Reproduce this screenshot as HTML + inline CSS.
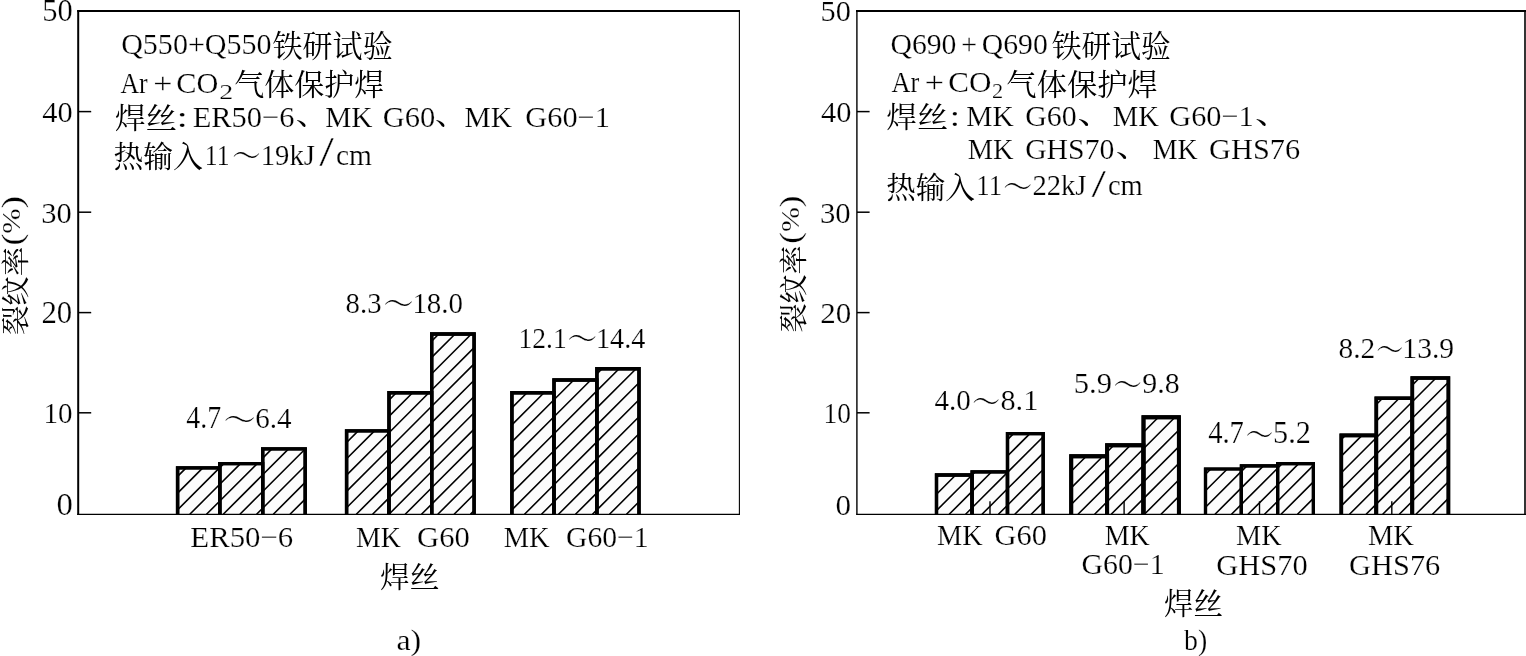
<!DOCTYPE html>
<html lang="zh"><head><meta charset="utf-8"><title>裂纹率</title>
<style>html,body{margin:0;padding:0;background:#fff}svg{display:block}text{font-family:"Liberation Serif","Noto Serif CJK SC",serif;white-space:pre}</style>
</head><body>
<svg width="1526" height="656" viewBox="0 0 1526 656">
<g fill="#fcfcfc" stroke="#000" stroke-width="3.4"><path d="M177.6 514.3V467.9H219.8V514.3"/><path d="M219.8 514.3V463.6H262.7V514.3"/><path d="M262.7 514.3V448.9H305.2V514.3"/></g>
<g fill="#fcfcfc" stroke="#000" stroke-width="3.4"><path d="M346.6 514.3V430.9H389.0V514.3"/><path d="M389.0 514.3V392.8H431.7V514.3"/><path d="M431.7 514.3V334.0H474.1V514.3"/></g>
<g fill="#fcfcfc" stroke="#000" stroke-width="3.4"><path d="M511.9 514.3V392.8H554.0V514.3"/><path d="M554.0 514.3V380.0H596.9V514.3"/><path d="M596.9 514.3V368.7H639.0V514.3"/></g>
<g fill="#fcfcfc" stroke="#000" stroke-width="3.3"><path d="M936.5 514.3V475.0H972.1V514.3"/><path d="M972.1 514.3V471.8H1007.5V514.3"/><path d="M1007.5 514.3V433.6H1043.2V514.3"/></g>
<g fill="#fcfcfc" stroke="#000" stroke-width="3.9"><path d="M1071.2 514.3V456.2H1107.1V514.3"/><path d="M1107.1 514.3V445.3H1143.5V514.3"/><path d="M1143.5 514.3V417.3H1178.9V514.3"/></g>
<g fill="#fcfcfc" stroke="#000" stroke-width="3.2"><path d="M1205.5 514.3V469.0H1241.4V514.3"/><path d="M1241.4 514.3V465.9H1277.6V514.3"/><path d="M1277.6 514.3V463.6H1313.4V514.3"/></g>
<g fill="#fcfcfc" stroke="#000" stroke-width="3.6"><path d="M1341.3 514.3V435.4H1376.3V514.3"/><path d="M1376.3 514.3V398.2H1412.3V514.3"/><path d="M1412.3 514.3V378.0H1448.4V514.3"/></g>
<path d="M177.6 476.4L186.1 467.9M177.6 493.1L202.8 467.9M177.6 509.8L219.5 467.9M189.8 514.3L219.8 484.3M206.5 514.3L219.8 501.0M219.8 467.6L223.8 463.6M219.8 484.3L240.5 463.6M219.8 501.0L257.2 463.6M223.2 514.3L262.7 474.8M239.9 514.3L262.7 491.5M256.6 514.3L262.7 508.2M262.7 458.1L271.9 448.9M262.7 474.8L288.6 448.9M262.7 491.5L305.2 449.0M262.7 508.2L305.2 465.7M273.3 514.3L305.2 482.4M290.0 514.3L305.2 499.1" stroke="#000" stroke-width="1.6" fill="none"/>
<path d="M346.6 442.5L358.2 430.9M346.6 458.8L374.5 430.9M346.6 475.1L389.0 432.7M346.6 491.4L389.0 449.0M346.6 507.7L389.0 465.3M356.3 514.3L389.0 481.6M372.6 514.3L389.0 497.9M388.9 514.3L389.0 514.2M389.0 400.1L396.3 392.8M389.0 416.4L412.6 392.8M389.0 432.7L428.9 392.8M389.0 449.0L431.7 406.3M389.0 465.3L431.7 422.6M389.0 481.6L431.7 438.9M389.0 497.9L431.7 455.2M389.0 514.2L431.7 471.5M405.2 514.3L431.7 487.8M421.5 514.3L431.7 504.1M431.7 341.1L438.8 334.0M431.7 357.4L455.1 334.0M431.7 373.7L471.4 334.0M431.7 390.0L474.1 347.6M431.7 406.3L474.1 363.9M431.7 422.6L474.1 380.2M431.7 438.9L474.1 396.5M431.7 455.2L474.1 412.8M431.7 471.5L474.1 429.1M431.7 487.8L474.1 445.4M431.7 504.1L474.1 461.7M437.8 514.3L474.1 478.0M454.1 514.3L474.1 494.3M470.4 514.3L474.1 510.6" stroke="#000" stroke-width="1.6" fill="none"/>
<path d="M511.9 407.9L527.0 392.8M511.9 424.9L544.0 392.8M511.9 441.9L554.0 399.8M511.9 458.9L554.0 416.8M511.9 475.9L554.0 433.8M511.9 492.9L554.0 450.8M511.9 509.9L554.0 467.8M524.5 514.3L554.0 484.8M541.5 514.3L554.0 501.8M554.0 382.8L556.8 380.0M554.0 399.8L573.8 380.0M554.0 416.8L590.8 380.0M554.0 433.8L596.9 390.9M554.0 450.8L596.9 407.9M554.0 467.8L596.9 424.9M554.0 484.8L596.9 441.9M554.0 501.8L596.9 458.9M558.5 514.3L596.9 475.9M575.5 514.3L596.9 492.9M592.5 514.3L596.9 509.9M596.9 373.9L602.1 368.7M596.9 390.9L619.1 368.7M596.9 407.9L636.1 368.7M596.9 424.9L639.0 382.8M596.9 441.9L639.0 399.8M596.9 458.9L639.0 416.8M596.9 475.9L639.0 433.8M596.9 492.9L639.0 450.8M596.9 509.9L639.0 467.8M609.5 514.3L639.0 484.8M626.5 514.3L639.0 501.8" stroke="#000" stroke-width="1.6" fill="none"/>
<path d="M936.5 477.8L939.3 475.0M936.5 494.2L955.7 475.0M936.5 510.6L972.1 475.0M949.2 514.3L972.1 491.4M965.6 514.3L972.1 507.8M972.1 475.0L975.3 471.8M972.1 491.4L991.7 471.8M972.1 507.8L1007.5 472.4M982.0 514.3L1007.5 488.8M998.4 514.3L1007.5 505.2M1007.5 439.6L1013.5 433.6M1007.5 456.0L1029.9 433.6M1007.5 472.4L1043.2 436.7M1007.5 488.8L1043.2 453.1M1007.5 505.2L1043.2 469.5M1014.8 514.3L1043.2 485.9M1031.2 514.3L1043.2 502.3" stroke="#000" stroke-width="1.6" fill="none"/>
<path d="M1071.2 471.3L1086.3 456.2M1071.2 487.9L1102.9 456.2M1071.2 504.5L1107.1 468.6M1078.0 514.3L1107.1 485.2M1094.6 514.3L1107.1 501.8M1107.1 452.0L1113.8 445.3M1107.1 468.6L1130.4 445.3M1107.1 485.2L1143.5 448.8M1107.1 501.8L1143.5 465.4M1111.2 514.3L1143.5 482.0M1127.8 514.3L1143.5 498.6M1143.5 432.2L1158.4 417.3M1143.5 448.8L1175.0 417.3M1143.5 465.4L1178.9 430.0M1143.5 482.0L1178.9 446.6M1143.5 498.6L1178.9 463.2M1144.4 514.3L1178.9 479.8M1161.0 514.3L1178.9 496.4M1177.6 514.3L1178.9 513.0" stroke="#000" stroke-width="1.6" fill="none"/>
<path d="M1205.5 474.3L1210.8 469.0M1205.5 490.8L1227.3 469.0M1205.5 507.3L1241.4 471.4M1215.0 514.3L1241.4 487.9M1231.5 514.3L1241.4 504.4M1241.4 471.4L1246.9 465.9M1241.4 487.9L1263.4 465.9M1241.4 504.4L1277.6 468.2M1248.0 514.3L1277.6 484.7M1264.5 514.3L1277.6 501.2M1277.6 468.2L1282.2 463.6M1277.6 484.7L1298.7 463.6M1277.6 501.2L1313.4 465.4M1281.0 514.3L1313.4 481.9M1297.5 514.3L1313.4 498.4" stroke="#000" stroke-width="1.6" fill="none"/>
<path d="M1341.3 439.5L1345.4 435.4M1341.3 456.1L1362.0 435.4M1341.3 472.7L1376.3 437.7M1341.3 489.3L1376.3 454.3M1341.3 505.9L1376.3 470.9M1349.5 514.3L1376.3 487.5M1366.1 514.3L1376.3 504.1M1376.3 404.5L1382.6 398.2M1376.3 421.1L1399.2 398.2M1376.3 437.7L1412.3 401.7M1376.3 454.3L1412.3 418.3M1376.3 470.9L1412.3 434.9M1376.3 487.5L1412.3 451.5M1376.3 504.1L1412.3 468.1M1382.7 514.3L1412.3 484.7M1399.3 514.3L1412.3 501.3M1412.3 385.1L1419.4 378.0M1412.3 401.7L1436.0 378.0M1412.3 418.3L1448.4 382.2M1412.3 434.9L1448.4 398.8M1412.3 451.5L1448.4 415.4M1412.3 468.1L1448.4 432.0M1412.3 484.7L1448.4 448.6M1412.3 501.3L1448.4 465.2M1415.9 514.3L1448.4 481.8M1432.5 514.3L1448.4 498.4" stroke="#000" stroke-width="1.6" fill="none"/>
<g fill="none" stroke="#000" stroke-width="3.4"><path d="M177.6 514.3V467.9H219.8V514.3"/><path d="M219.8 514.3V463.6H262.7V514.3"/><path d="M262.7 514.3V448.9H305.2V514.3"/></g>
<g fill="none" stroke="#000" stroke-width="3.4"><path d="M346.6 514.3V430.9H389.0V514.3"/><path d="M389.0 514.3V392.8H431.7V514.3"/><path d="M431.7 514.3V334.0H474.1V514.3"/></g>
<g fill="none" stroke="#000" stroke-width="3.4"><path d="M511.9 514.3V392.8H554.0V514.3"/><path d="M554.0 514.3V380.0H596.9V514.3"/><path d="M596.9 514.3V368.7H639.0V514.3"/></g>
<g fill="none" stroke="#000" stroke-width="3.3"><path d="M936.5 514.3V475.0H972.1V514.3"/><path d="M972.1 514.3V471.8H1007.5V514.3"/><path d="M1007.5 514.3V433.6H1043.2V514.3"/></g>
<g fill="none" stroke="#000" stroke-width="3.9"><path d="M1071.2 514.3V456.2H1107.1V514.3"/><path d="M1107.1 514.3V445.3H1143.5V514.3"/><path d="M1143.5 514.3V417.3H1178.9V514.3"/></g>
<g fill="none" stroke="#000" stroke-width="3.2"><path d="M1205.5 514.3V469.0H1241.4V514.3"/><path d="M1241.4 514.3V465.9H1277.6V514.3"/><path d="M1277.6 514.3V463.6H1313.4V514.3"/></g>
<g fill="none" stroke="#000" stroke-width="3.6"><path d="M1341.3 514.3V435.4H1376.3V514.3"/><path d="M1376.3 514.3V398.2H1412.3V514.3"/><path d="M1412.3 514.3V378.0H1448.4V514.3"/></g>
<g stroke="#000" fill="none">
<path d="M78.2 9.9V514.9" stroke-width="2.0"/>
<path d="M77.2 11H740" stroke-width="2.1"/>
<path d="M739.4 11V514.7" stroke-width="1.1"/>
<path d="M77.2 514.3H740" stroke-width="1.3"/>
<path d="M78 111.6H91.2" stroke-width="1.5"/>
<path d="M78 212.2H91.2" stroke-width="1.5"/>
<path d="M78 312.6H91.2" stroke-width="1.5"/>
<path d="M78 412.8H91.2" stroke-width="1.5"/>
<path d="M856.9 9.9V514.8" stroke-width="1.4"/>
<path d="M856 11H1526" stroke-width="2.1"/>
<path d="M1525 11V514.9" stroke-width="1.6"/>
<path d="M856.2 514.3H1526" stroke-width="1.3"/>
<path d="M857 111.6H869.6" stroke-width="1.5"/>
<path d="M857 212.2H869.6" stroke-width="1.5"/>
<path d="M857 312.6H869.6" stroke-width="1.5"/>
<path d="M857 412.8H869.6" stroke-width="1.5"/>
<path d="M990 501.3V514" stroke-width="1.4"/>
<path d="M1124.1 501.3V514" stroke-width="1.4"/>
<path d="M1259.5 501.3V514" stroke-width="1.4"/>
<path d="M1391.8 501.3V514" stroke-width="1.4"/>
</g>
<g font-family='Liberation Serif,Noto Serif CJK SC,serif' font-size="29.5" fill="#000" stroke="#fff" stroke-width="0.22">
<text transform="matrix(1.0000 0 0 1.0000 42.15 21.00)" font-size="30.5">50</text>
<text transform="matrix(0.9983 0 0 1.0000 42.20 121.60)" font-size="30.5">40</text>
<text transform="matrix(1.0018 0 0 1.0000 41.20 223.20)" font-size="30.5">30</text>
<text transform="matrix(1.0107 0 0 1.0000 41.44 323.10)" font-size="30.5">20</text>
<text transform="matrix(0.9547 0 0 1.0000 43.57 423.00)" font-size="30.5">10</text>
<text transform="matrix(1.0745 0 0 1.0000 56.46 514.50)" font-size="30.5">0</text>
<text transform="matrix(1.0192 0 0 1.0000 121.13 53.90)">Q550+Q550</text>
<text transform="matrix(1.0198 0 0 1.0370 272.44 56.67)" stroke="none">铁研试验</text>
<text transform="matrix(0.8748 0 0 1.0000 120.48 93.20)">Ar</text>
<text transform="matrix(1.1491 0 0 1.0000 153.18 93.20)">+</text>
<text transform="matrix(1.0260 0 0 1.0000 176.32 93.20)">CO</text>
<text transform="matrix(1.3333 0 0 1.0000 219.37 98.50)" font-size="21">2</text>
<text transform="matrix(1.0179 0 0 1.0182 234.13 95.45)" stroke="none">气体保护焊</text>
<text transform="matrix(1.0573 0 0 0.9852 114.64 129.18)" stroke="none">焊丝</text>
<text transform="matrix(1.4000 0 0 1.0000 176.45 126.80)">:</text>
<text transform="matrix(1.0330 0 0 1.0000 192.63 126.80)">ER50−6</text>
<text transform="matrix(1.1448 0 0 0.9517 295.67 124.86)" stroke="none">、</text>
<text transform="matrix(0.9957 0 0 1.0000 325.25 126.80)">MK</text>
<text transform="matrix(1.0351 0 0 1.0000 382.71 126.80)">G60</text>
<text transform="matrix(1.1034 0 0 0.9517 435.12 124.86)" stroke="none">、</text>
<text transform="matrix(1.0000 0 0 1.0000 464.55 126.80)">MK</text>
<text transform="matrix(1.0297 0 0 1.0000 525.31 126.80)">G60−1</text>
<text transform="matrix(1.0116 0 0 1.0000 113.44 167.20)" stroke="none">热输入</text>
<text transform="matrix(0.8667 0 0 1.0000 204.83 164.50)">11</text>
<text transform="matrix(0.9623 0 0 1.0833 232.26 167.44)">～</text>
<text transform="matrix(0.9733 0 0 1.0000 260.77 164.50)">19kJ</text>
<text transform="matrix(1.7818 0 0 1.3975 319.20 166.45)">/</text>
<text transform="matrix(0.9971 0 0 1.0000 335.90 164.50)">cm</text>
<text transform="matrix(0.9143 0 0 1.0000 186.34 428.00)" font-size="30.5">4.7</text>
<text transform="matrix(1.0830 0 0 1.0833 223.68 430.84)">～</text>
<text transform="matrix(0.9534 0 0 1.0000 255.31 428.00)" font-size="30.5">6.4</text>
<text transform="matrix(0.9427 0 0 1.0000 345.62 312.80)" font-size="30.5">8.3</text>
<text transform="matrix(1.0189 0 0 1.0833 383.47 315.44)">～</text>
<text transform="matrix(0.9495 0 0 1.0000 412.39 312.80)" font-size="30.5">18.0</text>
<text transform="matrix(0.9026 0 0 1.0000 518.52 347.60)" font-size="30.5">12.1</text>
<text transform="matrix(1.0000 0 0 1.0833 567.50 349.94)">～</text>
<text transform="matrix(0.9254 0 0 1.0000 595.96 347.60)" font-size="30.5">14.4</text>
<text transform="matrix(1.0443 0 0 1.0000 190.32 546.70)">ER50−6</text>
<text transform="matrix(0.9441 0 0 1.0000 355.99 546.70)">MK</text>
<text transform="matrix(1.0392 0 0 1.0000 417.10 546.70)">G60</text>
<text transform="matrix(0.9677 0 0 1.0000 503.67 546.70)">MK</text>
<text transform="matrix(1.0057 0 0 1.0000 566.04 546.70)">G60−1</text>
<text transform="matrix(1.0079 0 0 0.9889 379.99 587.88)" stroke="none">焊丝</text>
<text transform="matrix(1.0829 0 0 1.0000 396.42 650.00)">a)</text>
<text transform="matrix(0.9964 0 0 1.0000 820.46 21.00)" font-size="30.5">50</text>
<text transform="matrix(0.9983 0 0 1.0000 821.00 121.60)" font-size="30.5">40</text>
<text transform="matrix(1.0090 0 0 1.0000 819.99 222.50)" font-size="30.5">30</text>
<text transform="matrix(1.0179 0 0 1.0000 820.23 322.50)" font-size="30.5">20</text>
<text transform="matrix(0.8981 0 0 1.0000 823.53 423.00)" font-size="30.5">10</text>
<text transform="matrix(1.0196 0 0 1.0000 835.53 514.50)" font-size="30.5">0</text>
<text transform="matrix(1.0071 0 0 1.0000 890.44 54.30)">Q690</text>
<text transform="matrix(0.9455 0 0 1.0000 961.28 54.30)">+</text>
<text transform="matrix(1.0071 0 0 1.0000 981.74 54.30)">Q690</text>
<text transform="matrix(1.0112 0 0 1.0370 1051.64 56.67)" stroke="none">铁研试验</text>
<text transform="matrix(0.8943 0 0 1.0000 891.48 92.40)">Ar</text>
<text transform="matrix(1.1564 0 0 1.0000 924.77 92.40)">+</text>
<text transform="matrix(1.0545 0 0 1.0000 948.28 92.40)">CO</text>
<text transform="matrix(1.0667 0 0 1.0000 991.93 98.00)" font-size="21">2</text>
<text transform="matrix(1.0283 0 0 1.0182 1006.31 94.95)" stroke="none">气体保护焊</text>
<text transform="matrix(1.0449 0 0 0.9852 886.36 128.38)" stroke="none">焊丝</text>
<text transform="matrix(1.2571 0 0 1.0000 949.67 125.70)">:</text>
<text transform="matrix(0.9978 0 0 1.0000 966.25 125.70)">MK</text>
<text transform="matrix(1.0144 0 0 1.0000 1025.13 125.70)">G60</text>
<text transform="matrix(1.2414 0 0 0.9517 1077.45 123.86)" stroke="none">、</text>
<text transform="matrix(0.9699 0 0 1.0000 1112.77 125.70)">MK</text>
<text transform="matrix(1.0271 0 0 1.0000 1169.32 125.70)">G60−1</text>
<text transform="matrix(1.2552 0 0 0.9517 1254.93 123.86)" stroke="none">、</text>
<text transform="matrix(0.9656 0 0 1.0000 967.78 158.80)">MK</text>
<text transform="matrix(1.0087 0 0 1.0000 1025.14 158.80)">GHS70</text>
<text transform="matrix(1.2138 0 0 0.9517 1115.68 156.86)" stroke="none">、</text>
<text transform="matrix(0.9462 0 0 1.0000 1152.69 158.80)">MK</text>
<text transform="matrix(1.0284 0 0 1.0000 1209.11 158.80)">GHS76</text>
<text transform="matrix(1.0046 0 0 1.0000 886.14 197.50)" stroke="none">热输入</text>
<text transform="matrix(0.9042 0 0 1.0000 976.34 194.70)">11</text>
<text transform="matrix(0.9811 0 0 1.0833 1003.23 197.94)">～</text>
<text transform="matrix(0.9712 0 0 1.0000 1032.39 194.70)">22kJ</text>
<text transform="matrix(1.7576 0 0 1.3924 1091.50 196.65)">/</text>
<text transform="matrix(0.9652 0 0 1.0000 1107.93 194.70)">cm</text>
<text transform="matrix(0.9530 0 0 1.0000 934.42 410.40)" font-size="30.5">4.0</text>
<text transform="matrix(0.9445 0 0 1.0833 972.27 413.24)">～</text>
<text transform="matrix(0.9939 0 0 1.0000 1000.47 410.40)" font-size="30.5">8.1</text>
<text transform="matrix(1.0030 0 0 1.0000 1073.74 393.10)" font-size="30.5">5.9</text>
<text transform="matrix(0.9617 0 0 1.0833 1113.41 395.94)">～</text>
<text transform="matrix(0.9821 0 0 1.0000 1142.36 393.10)" font-size="30.5">9.8</text>
<text transform="matrix(0.9368 0 0 1.0000 1208.13 443.40)" font-size="30.5">4.7</text>
<text transform="matrix(0.9337 0 0 1.0833 1245.63 446.24)">～</text>
<text transform="matrix(0.9908 0 0 1.0000 1273.04 443.40)" font-size="30.5">5.2</text>
<text transform="matrix(0.9628 0 0 1.0000 1338.50 358.00)" font-size="30.5">8.2</text>
<text transform="matrix(0.9189 0 0 1.0833 1376.26 360.84)">～</text>
<text transform="matrix(0.9720 0 0 1.0000 1402.31 358.00)" font-size="30.5">13.9</text>
<text transform="matrix(0.9591 0 0 1.0000 937.08 544.50)">MK</text>
<text transform="matrix(1.0330 0 0 1.0000 994.51 544.50)">G60</text>
<text transform="matrix(0.9484 0 0 1.0000 1104.69 544.50)">MK</text>
<text transform="matrix(1.0120 0 0 1.0000 1081.44 574.20)">G60−1</text>
<text transform="matrix(0.9591 0 0 1.0000 1236.08 544.50)">MK</text>
<text transform="matrix(1.0342 0 0 1.0000 1216.31 575.00)">GHS70</text>
<text transform="matrix(0.9677 0 0 1.0000 1367.97 544.50)">MK</text>
<text transform="matrix(1.0307 0 0 1.0000 1349.11 575.00)">GHS76</text>
<text transform="matrix(1.0009 0 0 0.9889 1164.10 614.27)" stroke="none">焊丝</text>
<text transform="matrix(0.9419 0 0 1.0000 1184.00 650.20)">b)</text>
<text transform="translate(26.14 335.05) rotate(-90) scale(0.9977 0.9658)" stroke="none">裂纹率</text>
<text transform="translate(21.87 245.52) rotate(-90) scale(1.2129 0.9811)">(</text>
<text transform="translate(20.46 233.63) rotate(-90) scale(1.0311 0.8840)">%</text>
<text transform="translate(21.87 208.49) rotate(-90) scale(1.2933 0.9811)">)</text>
<text transform="translate(804.43 332.53) rotate(-90) scale(0.9860 0.9694)" stroke="none">裂纹率</text>
<text transform="translate(800.30 243.68) rotate(-90) scale(1.1871 0.9925)">(</text>
<text transform="translate(798.76 232.01) rotate(-90) scale(1.0133 0.8889)">%</text>
<text transform="translate(800.30 207.43) rotate(-90) scale(1.2267 0.9925)">)</text>

</g>
</svg>
</body></html>
